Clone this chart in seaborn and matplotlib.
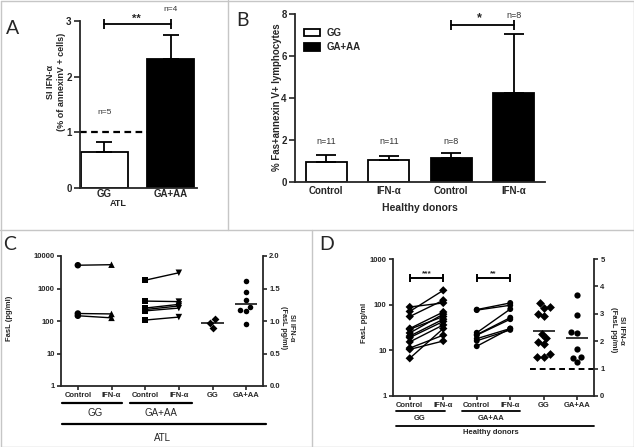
import numpy as np
import pandas as pd
import matplotlib
matplotlib.use('Agg')
import matplotlib.pyplot as plt
import seaborn as sns
from matplotlib.lines import Line2D
from matplotlib.patches import Patch
from matplotlib.ticker import NullLocator

# ========== Data ==========
# Panel A: SI IFN-alpha (% of annexinV+ cells), ATL
a_groups = ['GG', 'GA+AA']
a_mean = [0.64, 2.31]
a_err = [0.18, 0.43]
a_n = ['n=5', 'n=4']

# Panel B: % Fas+annexin V+ lymphocytes, healthy donors
b_geno = ['GG', 'GG', 'GA+AA', 'GA+AA']
b_cond = ['Control', 'IFN-α', 'Control', 'IFN-α']
b_mean = [0.95, 1.07, 1.15, 4.22]
b_err = [0.32, 0.15, 0.21, 2.81]
b_n = ['n=11', 'n=11', 'n=8', 'n=8']

# Panel C: FasL (pg/ml), ATL
c_gg_ctrl = [5200, 170, 145]
c_gg_ifn = [5400, 165, 125]
c_ga_ctrl = [1800, 410, 250, 225, 205, 107]
c_ga_ifn = [3050, 395, 325, 290, 250, 132]
c_si_gg = [0.89, 1.03, 0.97]
c_si_ga = [1.62, 1.45, 1.32, 1.21, 1.17, 1.15, 0.96]

# Panel D: FasL pg/ml, healthy donors
d_gg_ctrl = [89, 71, 55, 30, 29, 24, 20.5, 19, 15.3, 11.2, 10.5, 6.7]
d_gg_ifn = [109, 206, 125, 69, 55, 62, 48, 43, 36, 21.5, 16, 30]
d_ga_ctrl = [78, 76, 24.3, 22, 21.5, 18, 16.2, 12.3]
d_ga_ifn = [109, 97, 80, 52, 48, 30, 28, 30]
d_si_gg = [3.38, 3.2, 3.23, 3.01, 2.93, 2.26, 2.1, 1.98, 1.89, 1.52, 1.44, 1.44]
d_si_ga = [3.7, 2.96, 2.29, 2.32, 1.73, 1.43, 1.4, 1.24]

cd_ticks = ['Control', 'IFN-α', 'Control', 'IFN-α', 'GG', 'GA+AA']

# ========== Style ==========
sns.set_style('ticks')
plt.rcParams['font.family'] = ['Liberation Sans', 'DejaVu Sans']
plt.rcParams['font.weight'] = 'bold'
plt.rcParams['axes.labelweight'] = 'bold'
plt.rcParams['axes.linewidth'] = 1.3
plt.rcParams['xtick.major.width'] = 1.2
plt.rcParams['ytick.major.width'] = 1.2

W, H = 634, 447
fig = plt.figure(figsize=(W / 100, H / 100), dpi=100)


def rect(l, r, t, b):
    return [l / W, 1 - b / H, (r - l) / W, (b - t) / H]


def ftext(x, y, s, **kw):
    kw.setdefault('ha', 'center')
    kw.setdefault('va', 'center')
    fig.text(x / W, 1 - y / H, s, **kw)


def fline(x1, y1, x2, y2, **kw):
    fig.add_artist(Line2D([x1 / W, x2 / W], [1 - y1 / H, 1 - y2 / H],
                          transform=fig.transFigure, **kw))


# panel borders
gray = '#c6c6c6'
for seg in [(228, 0, 228, 230), (0, 230, 634, 230), (312, 230, 312, 447),
            (0.5, 0.5, 633.5, 0.5), (0.5, 446.5, 633.5, 446.5),
            (0.5, 0.5, 0.5, 446.5), (633.5, 0.5, 633.5, 446.5)]:
    fline(*seg, color=gray, lw=1.0)

# ========== Panel A ==========
axA = fig.add_axes(rect(80, 197, 21, 188))
sns.barplot(x=a_groups, y=a_mean, hue=a_groups, palette=['white', 'black'],
            edgecolor='black', linewidth=1.3, width=0.7, legend=False, ax=axA)
axA.errorbar(np.arange(len(a_groups)), a_mean, yerr=[np.zeros(len(a_err)), a_err],
             fmt='none', ecolor='black', elinewidth=1.3, capsize=6, capthick=1.3, zorder=1)
axA.set_ylim(0, 3)
axA.set_xlim(-0.37, 1.4)
axA.set_yticks([0, 1, 2, 3])
axA.tick_params(axis='y', labelsize=7, length=4, pad=2)
axA.tick_params(axis='x', labelsize=7, length=0, pad=1)
sns.despine(ax=axA)
axA.plot([-0.37, 0.65], [1, 1], color='black', lw=1.6, ls=(0, (3, 2)), clip_on=False)
axA.plot([0, 1], [2.94, 2.94], color='black', lw=1.3, marker='|', ms=7, mew=1.3, clip_on=False)
axA.text(0.48, 3.04, '**', ha='center', va='center', fontsize=8, clip_on=False)
for i, lbl in enumerate(a_n):
    yv = 1.35 if i == 0 else 3.2
    axA.text(i, yv, lbl, ha='center', va='center', fontsize=6, fontweight='normal',
             color='#333333', clip_on=False)
ftext(56, 82, 'SI IFN-α\n(% of annexinV + cells)', rotation=90, fontsize=6.5,
      linespacing=1.3)
ftext(118, 204, 'ATL', fontsize=6.5)
ftext(13, 28, 'A', fontsize=14, fontweight='normal', family='Lato')

# ========== Panel B ==========
axB = fig.add_axes(rect(295, 545, 14, 182))
b_keys = [g + ' ' + c for g, c in zip(b_geno, b_cond)]
sns.barplot(x=b_keys, y=b_mean, hue=b_geno, palette={'GG': 'white', 'GA+AA': 'black'},
            dodge=False, edgecolor='black', linewidth=1.3, width=0.65, legend=False, ax=axB)
axB.errorbar(np.arange(len(b_keys)), b_mean, yerr=[np.zeros(len(b_err)), b_err],
             fmt='none', ecolor='black', elinewidth=1.3, capsize=7, capthick=1.3, zorder=1)
axB.set_ylim(0, 8)
axB.set_xlim(-0.5, 3.5)
axB.set_yticks([0, 2, 4, 6, 8])
axB.set_xticks(range(len(b_cond)))
axB.set_xticklabels(b_cond)
axB.tick_params(axis='y', labelsize=7, length=4, pad=2)
axB.tick_params(axis='x', labelsize=7, length=0, pad=3)
sns.despine(ax=axB)
for i, lbl in enumerate(b_n):
    yv = 1.92 if i < 3 else 7.95
    axB.text(i, yv, lbl, ha='center', va='center', fontsize=6.5, fontweight='normal',
             color='#333333', clip_on=False)
axB.plot([2, 3], [7.48, 7.48], color='black', lw=1.3, marker='|', ms=7, mew=1.3, clip_on=False)
axB.text(2.45, 7.78, '*', ha='center', va='center', fontsize=9, clip_on=False)
axB.legend(handles=[Patch(fc='white', ec='black', lw=1.3, label='GG'),
                    Patch(fc='black', ec='black', lw=1.3, label='GA+AA')],
           loc='upper left', bbox_to_anchor=(0.02, 0.94), frameon=False,
           prop={'weight': 'bold', 'size': 7}, handlelength=1.7, handleheight=0.75,
           labelspacing=0.45, handletextpad=0.6, borderaxespad=0)
ftext(277, 97, '% Fas+annexin V+ lymphocytes', rotation=90, fontsize=7)
ftext(420, 208, 'Healthy donors', fontsize=7.5)
ftext(243, 21, 'B', fontsize=14, fontweight='normal', family='Lato')


# ========== Helpers for C and D ==========
def pairs_frame(ctrl_lists, ifn_lists):
    frames = []
    for g, (ctrl, ifn) in enumerate(zip(ctrl_lists, ifn_lists)):
        ids = [f'{g}-{i}' for i in range(len(ctrl))]
        frames.append(pd.DataFrame({'pos': 2 * g, 'val': ctrl, 'pair': ids, 'kind': f'c{g}'}))
        frames.append(pd.DataFrame({'pos': 2 * g + 1, 'val': ifn, 'pair': ids, 'kind': f'i{g}'}))
    return pd.concat(frames, ignore_index=True)


def paired_panel(ax, df, markers, msize):
    sns.lineplot(data=df, x='pos', y='val', units='pair', estimator=None, sort=False,
                 color='black', lw=1.0, legend=False, ax=ax)
    sns.scatterplot(data=df, x='pos', y='val', style='kind', markers=markers,
                    color='black', s=msize, linewidth=0, legend=False, ax=ax, zorder=3)


def si_panel(ax2, si_lists, markers, size):
    for k, (si, mk) in enumerate(zip(si_lists, markers)):
        pos = 4 + k
        sns.swarmplot(x=np.full(len(si), pos), y=si, native_scale=True, orient='x',
                      marker=mk, color='black', size=size, ax=ax2)
        ax2.hlines(np.mean(si), pos - 0.33, pos + 0.33, color='black', lw=1.1)


def style_cd(ax, ax2, labelsize):
    ax.set_xlim(-0.5, 5.5)
    ax.set_xticks(range(len(cd_ticks)))
    ax.set_xticklabels(cd_ticks)
    ax.yaxis.set_minor_locator(NullLocator())
    ax.tick_params(axis='both', labelsize=labelsize, length=3, pad=1.5)
    ax2.tick_params(axis='y', labelsize=labelsize, length=3, pad=1.5)
    ax.spines['top'].set_visible(False)
    ax.spines['right'].set_visible(False)
    for s in ['top', 'left', 'bottom']:
        ax2.spines[s].set_visible(False)
    ax2.spines['right'].set_visible(True)
    ax.set_xlabel('')
    ax.set_ylabel('')
    ax2.set_xlabel('')
    ax2.set_ylabel('')


# ========== Panel C ==========
axC = fig.add_axes(rect(61, 263, 256, 386))
axC.set_yscale('log')
dfC = pairs_frame([c_gg_ctrl, c_ga_ctrl], [c_gg_ifn, c_ga_ifn])
paired_panel(axC, dfC, {'c0': 'o', 'i0': '^', 'c1': 's', 'i1': 'v'}, 22)
axC.set_ylim(1, 10000)
axC.set_yticks([1, 10, 100, 1000, 10000])
axC.set_yticklabels(['1', '10', '100', '1000', '10000'])
axC2 = axC.twinx()
si_panel(axC2, [c_si_gg, c_si_ga], ['D', 'o'], 4.0)
axC2.set_ylim(0, 2)
axC2.set_yticks([0, 0.5, 1.0, 1.5, 2.0])
axC2.set_yticklabels(['0.0', '0.5', '1.0', '1.5', '2.0'])
style_cd(axC, axC2, 5.5)
axC.set_xlim(-0.5, 5.5)

for x1, x2, y in [(62, 122, 403), (130, 192, 403), (62, 266, 424)]:
    fline(x1, y, x2, y, color='black', lw=1.6)
ftext(95, 413, 'GG', fontsize=7, fontweight='normal')
ftext(161, 413, 'GA+AA', fontsize=7, fontweight='normal')
ftext(162, 438, 'ATL', fontsize=7, fontweight='normal')
ftext(10, 318, 'FasL (pg/ml)', rotation=90, fontsize=5.5)
ftext(288, 328, 'SI IFN-α\n(FasL pg/ml)', rotation=270, fontsize=5.2, linespacing=1.2)
ftext(10, 245, 'C', fontsize=14, fontweight='normal', family='Lato')

# ========== Panel D ==========
axD = fig.add_axes(rect(393, 594, 259, 396))
axD.set_yscale('log')
dfD = pairs_frame([d_gg_ctrl, d_ga_ctrl], [d_gg_ifn, d_ga_ifn])
paired_panel(axD, dfD, {'c0': 'D', 'i0': 'D', 'c1': 'o', 'i1': 'o'}, 18)
axD.set_ylim(1, 1000)
axD.set_yticks([1, 10, 100, 1000])
axD.set_yticklabels(['1', '10', '100', '1000'])
axD.plot([0, 1], [383, 383], color='black', lw=1.4, marker='|', ms=6, mew=1.4, clip_on=False)
axD.plot([2, 3], [383, 383], color='black', lw=1.4, marker='|', ms=6, mew=1.4, clip_on=False)
axD.text(0.5, 470, '***', ha='center', va='center', fontsize=6, clip_on=False)
axD.text(2.5, 470, '**', ha='center', va='center', fontsize=6, clip_on=False)
axD2 = axD.twinx()
si_panel(axD2, [d_si_gg, d_si_ga], ['D', 'o'], 4.5)
axD2.plot([3.58, 5.5], [1, 1], color='black', lw=1.4, ls=(0, (3, 2)), clip_on=False)
axD2.set_ylim(0, 5)
axD2.set_yticks([0, 1, 2, 3, 4, 5])
style_cd(axD, axD2, 5.5)
axD.set_xlim(-0.5, 5.5)

for x1, x2, y in [(396, 445, 411), (462, 520, 411), (396, 594, 426)]:
    fline(x1, y, x2, y, color='black', lw=1.3)
ftext(420, 419, 'GG', fontsize=5.5)
ftext(491, 419, 'GA+AA', fontsize=5.5)
ftext(491, 433, 'Healthy donors', fontsize=5.5)
ftext(364, 323, 'FasL pg/ml', rotation=90, fontsize=5.5)
ftext(617, 330, 'SI IFN-α\n(FasL pg/ml)', rotation=270, fontsize=5.5, linespacing=1.2)
ftext(327, 245, 'D', fontsize=14, fontweight='normal', family='Lato')

fig.savefig('out.png', dpi=100)
